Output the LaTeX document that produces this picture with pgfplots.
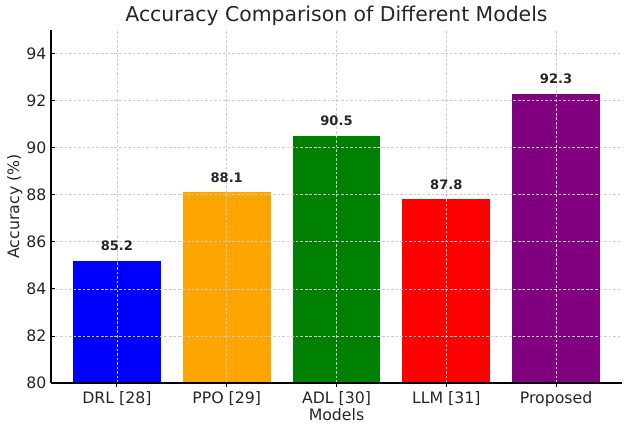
\documentclass[border=0pt]{standalone}
\usepackage{pgfplots}
\pgfplotsset{compat=1.18}
\usepackage{fontspec}
\setmainfont{DejaVu Sans}
\definecolor{mblue}{RGB}{0,0,255}
\definecolor{morange}{RGB}{255,165,0}
\definecolor{mgreen}{RGB}{0,128,0}
\definecolor{mred}{RGB}{255,0,0}
\definecolor{mpurple}{RGB}{128,0,128}
\definecolor{txt}{RGB}{38,38,38}
\begin{document}
\begin{tikzpicture}[x=1pt,y=1pt]
\begin{axis}[
  at={(0,0)}, anchor=south west,
  scale only axis,
  width=428.25pt, height=264.75pt,
  xmin=-0.6, xmax=4.6,
  ymin=80, ymax=95,
  ytick={80,82,...,94},
  xtick={0,1,2,3,4},
  xticklabels={DRL [28],PPO [29],ADL [30],LLM [31],Proposed},
  axis lines*=left,
  axis line style={line width=0.8pt, black},
  tick style={black, line width=0.6pt},
  major tick length=3pt,
  tick align=inside,
  grid=major,
  grid style={dashed, gray!40, line width=0.5pt, dash pattern=on 2pt off 1.4pt},
  axis on top,
  ticklabel style={font=\fontsize{11.8}{12}\selectfont, text=txt},
  /pgf/number format/assume math mode=true,
  xlabel={Models}, ylabel={Accuracy (\%)},
  label style={font=\fontsize{11.8}{12}\selectfont, text=txt},
  xlabel style={yshift=6pt},
  ylabel style={yshift=-4pt},
  title={Accuracy Comparison of Different Models},
  title style={font=\fontsize{15.3}{16}\selectfont, text=txt, yshift=-6.5pt},
  ybar, bar width=0.8, bar shift=0pt,
  nodes near coords,
  nodes near coords style={font=\fontsize{9.8}{10}\selectfont\bfseries, text=txt, yshift=4pt},
  every axis plot/.append style={draw=none},
]
\addplot[fill=mblue] coordinates {(0,85.2)};
\addplot[fill=morange] coordinates {(1,88.1)};
\addplot[fill=mgreen] coordinates {(2,90.5)};
\addplot[fill=mred] coordinates {(3,87.8)};
\addplot[fill=mpurple] coordinates {(4,92.3)};
\end{axis}
\pgfresetboundingbox
\useasboundingbox (-38.25pt,-33.75pt) rectangle (433.5pt,287.25pt);
\end{tikzpicture}
\end{document}
